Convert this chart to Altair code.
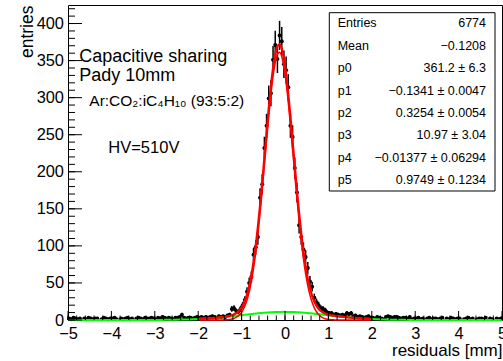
import altair as alt
import numpy as np
import pandas as pd

# ---------------- data ----------------
x_min, x_max, n_bins = -5.0, 5.0, 200

counts = [
    2, 1, 3, 2, 1, 2, 0, 2, 1, 3,
    2, 1, 2, 2, 0, 1, 3, 2, 1, 2,
    2, 3, 1, 0, 2, 1, 2, 3, 1, 2,
    0, 2, 3, 2, 1, 3, 2, 2, 3, 2,
    1, 3, 2, 4, 3, 2, 3, 2, 1, 3,
    3, 4, 7, 3, 2, 3, 3, 2, 3, 4,
    3, 4, 3, 4, 3, 4, 5, 4, 3, 5,
    4, 5, 4, 6, 7, 15, 16, 12, 11, 15,
    20, 27, 38, 50, 58, 88, 98, 112, 165, 183,
    232, 262, 299, 306, 351, 371, 352, 384, 376, 345,
    337, 314, 262, 247, 205, 172, 128, 112, 95, 85,
    70, 52, 45, 30, 24, 20, 16, 15, 13, 10,
    9, 9, 7, 8, 7, 6, 7, 6, 9, 8,
    9, 5, 6, 4, 5, 4, 3, 4, 5, 3,
    3, 2, 4, 3, 2, 1, 4, 5, 4, 3,
    4, 4, 3, 2, 3, 3, 2, 4, 1, 2,
    2, 3, 1, 2, 0, 2, 3, 1, 2, 2,
    1, 2, 3, 0, 2, 1, 3, 2, 1, 2,
    2, 0, 1, 2, 3, 1, 2, 0, 1, 2,
    2, 1, 3, 0, 2, 1, 0, 2, 1, 2,
]

# fit curves read at the bin centres from -1.975 to 1.975 (fit range)
fit_narrow = [
    0, 0, 0, 0, 0, 0, 0, 0, 0.01, 0.03,
    0.07, 0.14, 0.25, 0.45, 0.77, 1.31, 2.17, 3.50, 5.53, 8.51,
    12.81, 18.83, 27.04, 37.92, 51.9, 69.5, 90.7, 115.8, 144.2, 175.5,
    208.6, 242.2, 274.6, 304.1, 328.9, 347.4, 358.4, 361.1, 355.3, 341.4,
    320.5, 293.8, 263.1, 230.0, 196.5, 163.9, 133.5, 106.2, 82.5, 62.6,
    46.4, 33.6, 23.8, 16.4, 11.1, 7.3, 4.7, 2.95, 1.8, 1.08,
    0.6, 0.35, 0.2, 0.1, 0.05, 0.02, 0.01, 0, 0, 0,
    0, 0, 0, 0, 0, 0, 0, 0, 0, 0,
]
fit_broad = [
    1.45, 1.61, 1.77, 1.95, 2.15, 2.35, 2.57, 2.80, 3.04, 3.30,
    3.57, 3.85, 4.14, 4.44, 4.75, 5.07, 5.39, 5.73, 6.07, 6.41,
    6.75, 7.09, 7.43, 7.76, 8.09, 8.41, 8.72, 9.01, 9.29, 9.56,
    9.81, 10.04, 10.24, 10.42, 10.58, 10.72, 10.82, 10.90, 10.95, 10.97,
    10.96, 10.92, 10.86, 10.77, 10.65, 10.50, 10.33, 10.13, 9.91, 9.67,
    9.42, 9.14, 8.85, 8.54, 8.23, 7.90, 7.57, 7.23, 6.90, 6.56,
    6.22, 5.88, 5.55, 5.21, 4.89, 4.58, 4.27, 3.97, 3.69, 3.41,
    3.16, 2.91, 2.67, 2.45, 2.24, 2.04, 1.85, 1.68, 1.52, 1.37,
]
broad_left_x = [-5.0, -4.0, -3.5, -3.0, -2.75, -2.5, -2.25]
broad_left_y = [0.0, 0.0, 0.02, 0.10, 0.21, 0.42, 0.79]
broad_right_x = [2.25, 2.5, 2.75, 3.0, 3.5, 4.0, 5.0]
broad_right_y = [0.74, 0.39, 0.20, 0.09, 0.02, 0.0, 0.0]

x_major = [-5, -4, -3, -2, -1, 0, 1, 2, 3, 4, 5]
x_minor = [round(-5 + 0.2 * i, 2) for i in range(51)]
y_major = [0, 50, 100, 150, 200, 250, 300, 350, 400]
y_minor = list(range(0, 425, 10))

stat_labels = ["Entries", "Mean", "p0", "p1", "p2", "p3", "p4", "p5"]
stat_values = ["6774", "\u22120.1208", "361.2 \u00b1 6.3", "\u22120.1341 \u00b1 0.0047",
               "0.3254 \u00b1 0.0054", "10.97 \u00b1 3.04",
               "\u22120.01377 \u00b1 0.06294", "0.9749 \u00b1 0.1234"]

text_lines = ["Capacitive sharing", "Pady 10mm",
              "Ar:CO\u2082:iC\u2084H\u2081\u2080 (93:5:2)", "HV=510V"]

# ---------------- tables ----------------
width_bin = (x_max - x_min) / n_bins
centers = x_min + (np.arange(n_bins) + 0.5) * width_bin
cnt = np.array(counts, dtype=float)
hist = pd.DataFrame({"c": centers, "n": cnt,
                     "lo": centers - width_bin / 2, "hi": centers + width_bin / 2,
                     "elo": cnt - np.sqrt(cnt), "ehi": cnt + np.sqrt(cnt)})
hist = hist[hist["n"] > 0]

fit_x = centers[60:140]
fit_df = pd.DataFrame({"x": fit_x, "narrow": fit_narrow,
                       "total": np.array(fit_narrow) + np.array(fit_broad)})
broad_df = pd.DataFrame({"x": list(broad_left_x) + list(fit_x) + list(broad_right_x),
                         "y": list(broad_left_y) + list(fit_broad) + list(broad_right_y)})

FONT = "Liberation Sans"
W, H = 434, 315
xs = alt.Scale(domain=[x_min, x_max], nice=False, zero=False)
ys = alt.Scale(domain=[0, 425], nice=False, zero=False)

x_axis = alt.Axis(values=x_major, format="d", ticks=False, tickSize=0, domain=False, grid=False,
                  labelFont=FONT, labelFontSize=16.4, labelColor="black", labelPadding=5,
                  labelFlush=False, labelOverlap=False,
                  title="residuals [mm]", titleFont=FONT, titleFontSize=17, titleFontWeight="normal",
                  titleColor="black", titleX=W, titleY=35, titleAlign="right",
                  titleBaseline="alphabetic", titleAnchor="end")
y_axis = alt.Axis(values=y_major, format="d", ticks=False, tickSize=0, domain=False, grid=False,
                  labelFont=FONT, labelFontSize=16.4, labelColor="black", labelPadding=4.5,
                  labelFlush=False, labelOverlap=False,
                  title="entries", titleFont=FONT, titleFontSize=17.5, titleFontWeight="normal",
                  titleColor="black", titleX=-36, titleY=0, titleAlign="right",
                  titleBaseline="alphabetic", titleAngle=270, titleAnchor="end")


def X(field):
    return alt.X(field, scale=xs, axis=x_axis, title="residuals [mm]")


def Y(field):
    return alt.Y(field, scale=ys, axis=y_axis, title="entries")


base = alt.Chart(hist)
hbars = base.mark_rule(color="black", strokeWidth=1.2).encode(
    x=X("lo:Q"), x2="hi:Q", y=Y("n:Q"))
vbars = base.mark_rule(color="black", strokeWidth=1.5).encode(
    x=X("c:Q"), y=Y("elo:Q"), y2="ehi:Q")
pts = base.mark_circle(color="black", size=16, opacity=1).encode(
    x=X("c:Q"), y=Y("n:Q"))

green = alt.Chart(broad_df).mark_line(color="#00ff00", strokeWidth=2, interpolate="monotone").encode(
    x=X("x:Q"), y=Y("y:Q"))
red_n = alt.Chart(fit_df).mark_line(color="#ff0000", strokeWidth=1.5, interpolate="monotone").encode(
    x=X("x:Q"), y=Y("narrow:Q"))
red_t = alt.Chart(fit_df).mark_line(color="#ff0000", strokeWidth=2.3, interpolate="monotone").encode(
    x=X("x:Q"), y=Y("total:Q"))


def yticks(vals, length):
    return alt.Chart(pd.DataFrame({"v": vals})).mark_rule(color="black", strokeWidth=1).encode(
        y=Y("v:Q"), x=alt.value(0), x2=alt.value(length))


def xticks(vals, length):
    return alt.Chart(pd.DataFrame({"v": vals})).mark_rule(color="black", strokeWidth=1).encode(
        x=X("v:Q"), y=alt.value(H), y2=alt.value(H - length))


one = pd.DataFrame({"k": [0]})
box = alt.Chart(one).mark_rect(fill="white", stroke="black", strokeWidth=1).encode(
    x=alt.value(261.3), x2=alt.value(427), y=alt.value(7.7), y2=alt.value(186))

layers = [hbars, vbars, pts, green, red_n, red_t,
          yticks(y_minor, 7), yticks(y_major, 14), xticks(x_minor, 4.5), xticks(x_major, 9),
          box]

row_gap = 22.43
for i, (lab, val) in enumerate(zip(stat_labels, stat_values)):
    yy = 18.3 + i * row_gap
    layers.append(alt.Chart(one).mark_text(text=lab, font=FONT, fontSize=12.5, align="left",
                                           baseline="middle", color="black").encode(
        x=alt.value(269.7), y=alt.value(yy)))
    layers.append(alt.Chart(one).mark_text(text=val, font=FONT, fontSize=12.5, align="right",
                                           baseline="middle", color="black").encode(
        x=alt.value(418), y=alt.value(yy)))

text_specs = [(11.3, 56.7, 18), (11.3, 75.7, 18), (21.3, 101, 15.5), (40.3, 148.3, 16.5)]
for txt, (tx, ty, fs) in zip(text_lines, text_specs):
    layers.append(alt.Chart(one).mark_text(text=txt, font=FONT, fontSize=fs, align="left",
                                           baseline="alphabetic", color="black").encode(
        x=alt.value(tx), y=alt.value(ty)))

chart = alt.layer(*layers).properties(
    width=W, height=H,
    autosize=alt.AutoSizeParams(type="none"),
    padding={"left": 68, "top": 5, "right": 1, "bottom": 41},
    background="white",
).configure_view(stroke="black", strokeWidth=1)

chart.save("out.html", embed_options={"renderer": "svg", "actions": False})
